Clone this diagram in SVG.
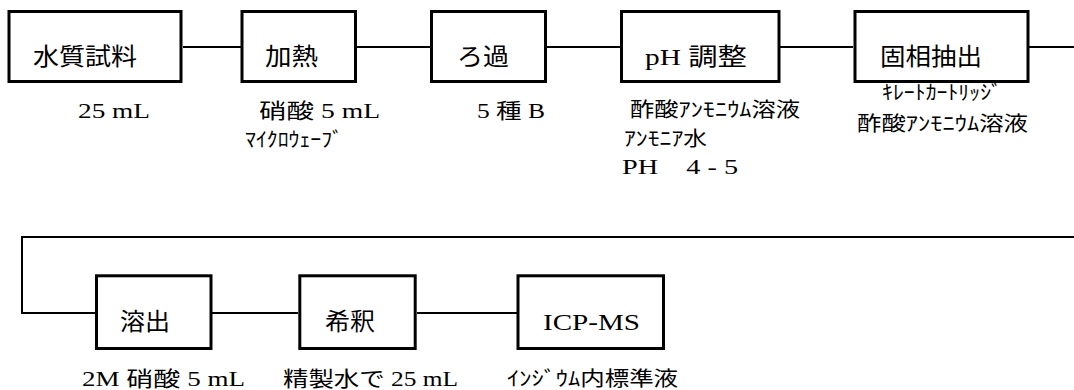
<svg xmlns="http://www.w3.org/2000/svg" width="1074" height="390" viewBox="0 0 1074 390">
<style>
.box{fill:#fff;stroke:#000;stroke-width:3}
.con{fill:none;stroke:#000;stroke-width:2}
text{font-family:"Liberation Serif","Noto Sans CJK JP",serif;fill:#000}
.lb{font-size:24px}
.sm{font-size:21px}
.kn{font-size:20px}
</style>
<rect width="1074" height="390" fill="#fff"/>
<g id="connectors">
<path class="con" d="M183,47H241M357,47H430M547,47H620M780,47H853M1029,47H1074"/>
<path class="con" d="M1074,237H22V313H95M212,313H298M417,313H517"/>
</g>
<g id="n1"><rect class="box" x="9" y="11.5" width="172" height="70"/>
<text class="lb" x="33" y="65" textLength="104" lengthAdjust="spacingAndGlyphs">水質試料</text>
<text class="sm" x="78" y="118" textLength="72" lengthAdjust="spacingAndGlyphs">25 mL</text></g>
<g id="n2"><rect class="box" x="242" y="11.5" width="113.5" height="70"/>
<text class="lb" x="265" y="65" textLength="53" lengthAdjust="spacingAndGlyphs">加熱</text>
<text class="sm" x="259" y="118" textLength="121" lengthAdjust="spacingAndGlyphs">硝酸  5 mL</text>
<text class="kn" x="245" y="147" textLength="98" lengthAdjust="spacingAndGlyphs">ﾏｲｸﾛｳｪｰﾌﾞ</text></g>
<g id="n3"><rect class="box" x="431.5" y="11.5" width="114" height="70"/>
<text class="lb" x="457" y="65" textLength="52" lengthAdjust="spacingAndGlyphs">ろ過</text>
<text class="sm" x="477" y="118" textLength="68" lengthAdjust="spacingAndGlyphs">5 種 B</text></g>
<g id="n4"><rect class="box" x="621.5" y="11.5" width="157.5" height="70"/>
<text class="lb" x="645" y="65" textLength="102" lengthAdjust="spacingAndGlyphs">pH 調整</text>
<text class="kn" x="630" y="117" textLength="170" lengthAdjust="spacingAndGlyphs">酢酸ｱﾝﾓﾆｳﾑ溶液</text>
<text class="kn" x="624" y="146" textLength="83" lengthAdjust="spacingAndGlyphs">ｱﾝﾓﾆｱ水</text>
<text class="sm" x="622" y="174" textLength="116" lengthAdjust="spacingAndGlyphs">PH　4 - 5</text></g>
<g id="n5"><rect class="box" x="855" y="11.5" width="173" height="70"/>
<text class="lb" x="880" y="65" textLength="102" lengthAdjust="spacingAndGlyphs">固相抽出</text>
<text class="kn" x="882" y="100" textLength="120" lengthAdjust="spacingAndGlyphs">ｷﾚｰﾄｶｰﾄﾘｯｼﾞ</text>
<text class="kn" x="857" y="131" textLength="171" lengthAdjust="spacingAndGlyphs">酢酸ｱﾝﾓﾆｳﾑ溶液</text></g>
<g id="n6"><rect class="box" x="96.5" y="275.8" width="114.5" height="72.7"/>
<text class="lb" x="120" y="330" textLength="50" lengthAdjust="spacingAndGlyphs">溶出</text>
<text class="sm" x="82" y="386" textLength="163" lengthAdjust="spacingAndGlyphs">2M 硝酸  5 mL</text></g>
<g id="n7"><rect class="box" x="299.8" y="275.8" width="115.4" height="72.7"/>
<text class="lb" x="325" y="330" textLength="50" lengthAdjust="spacingAndGlyphs">希釈</text>
<text class="sm" x="283" y="386" textLength="175" lengthAdjust="spacingAndGlyphs">精製水で 25 mL</text></g>
<g id="n8"><rect class="box" x="518" y="275.8" width="145.5" height="72.7"/>
<text class="lb" x="543" y="330" textLength="97" lengthAdjust="spacingAndGlyphs">ICP-MS</text>
<text class="kn" x="507" y="386" textLength="171" lengthAdjust="spacingAndGlyphs">ｲﾝｼﾞｳﾑ内標準液</text></g>
</svg>
